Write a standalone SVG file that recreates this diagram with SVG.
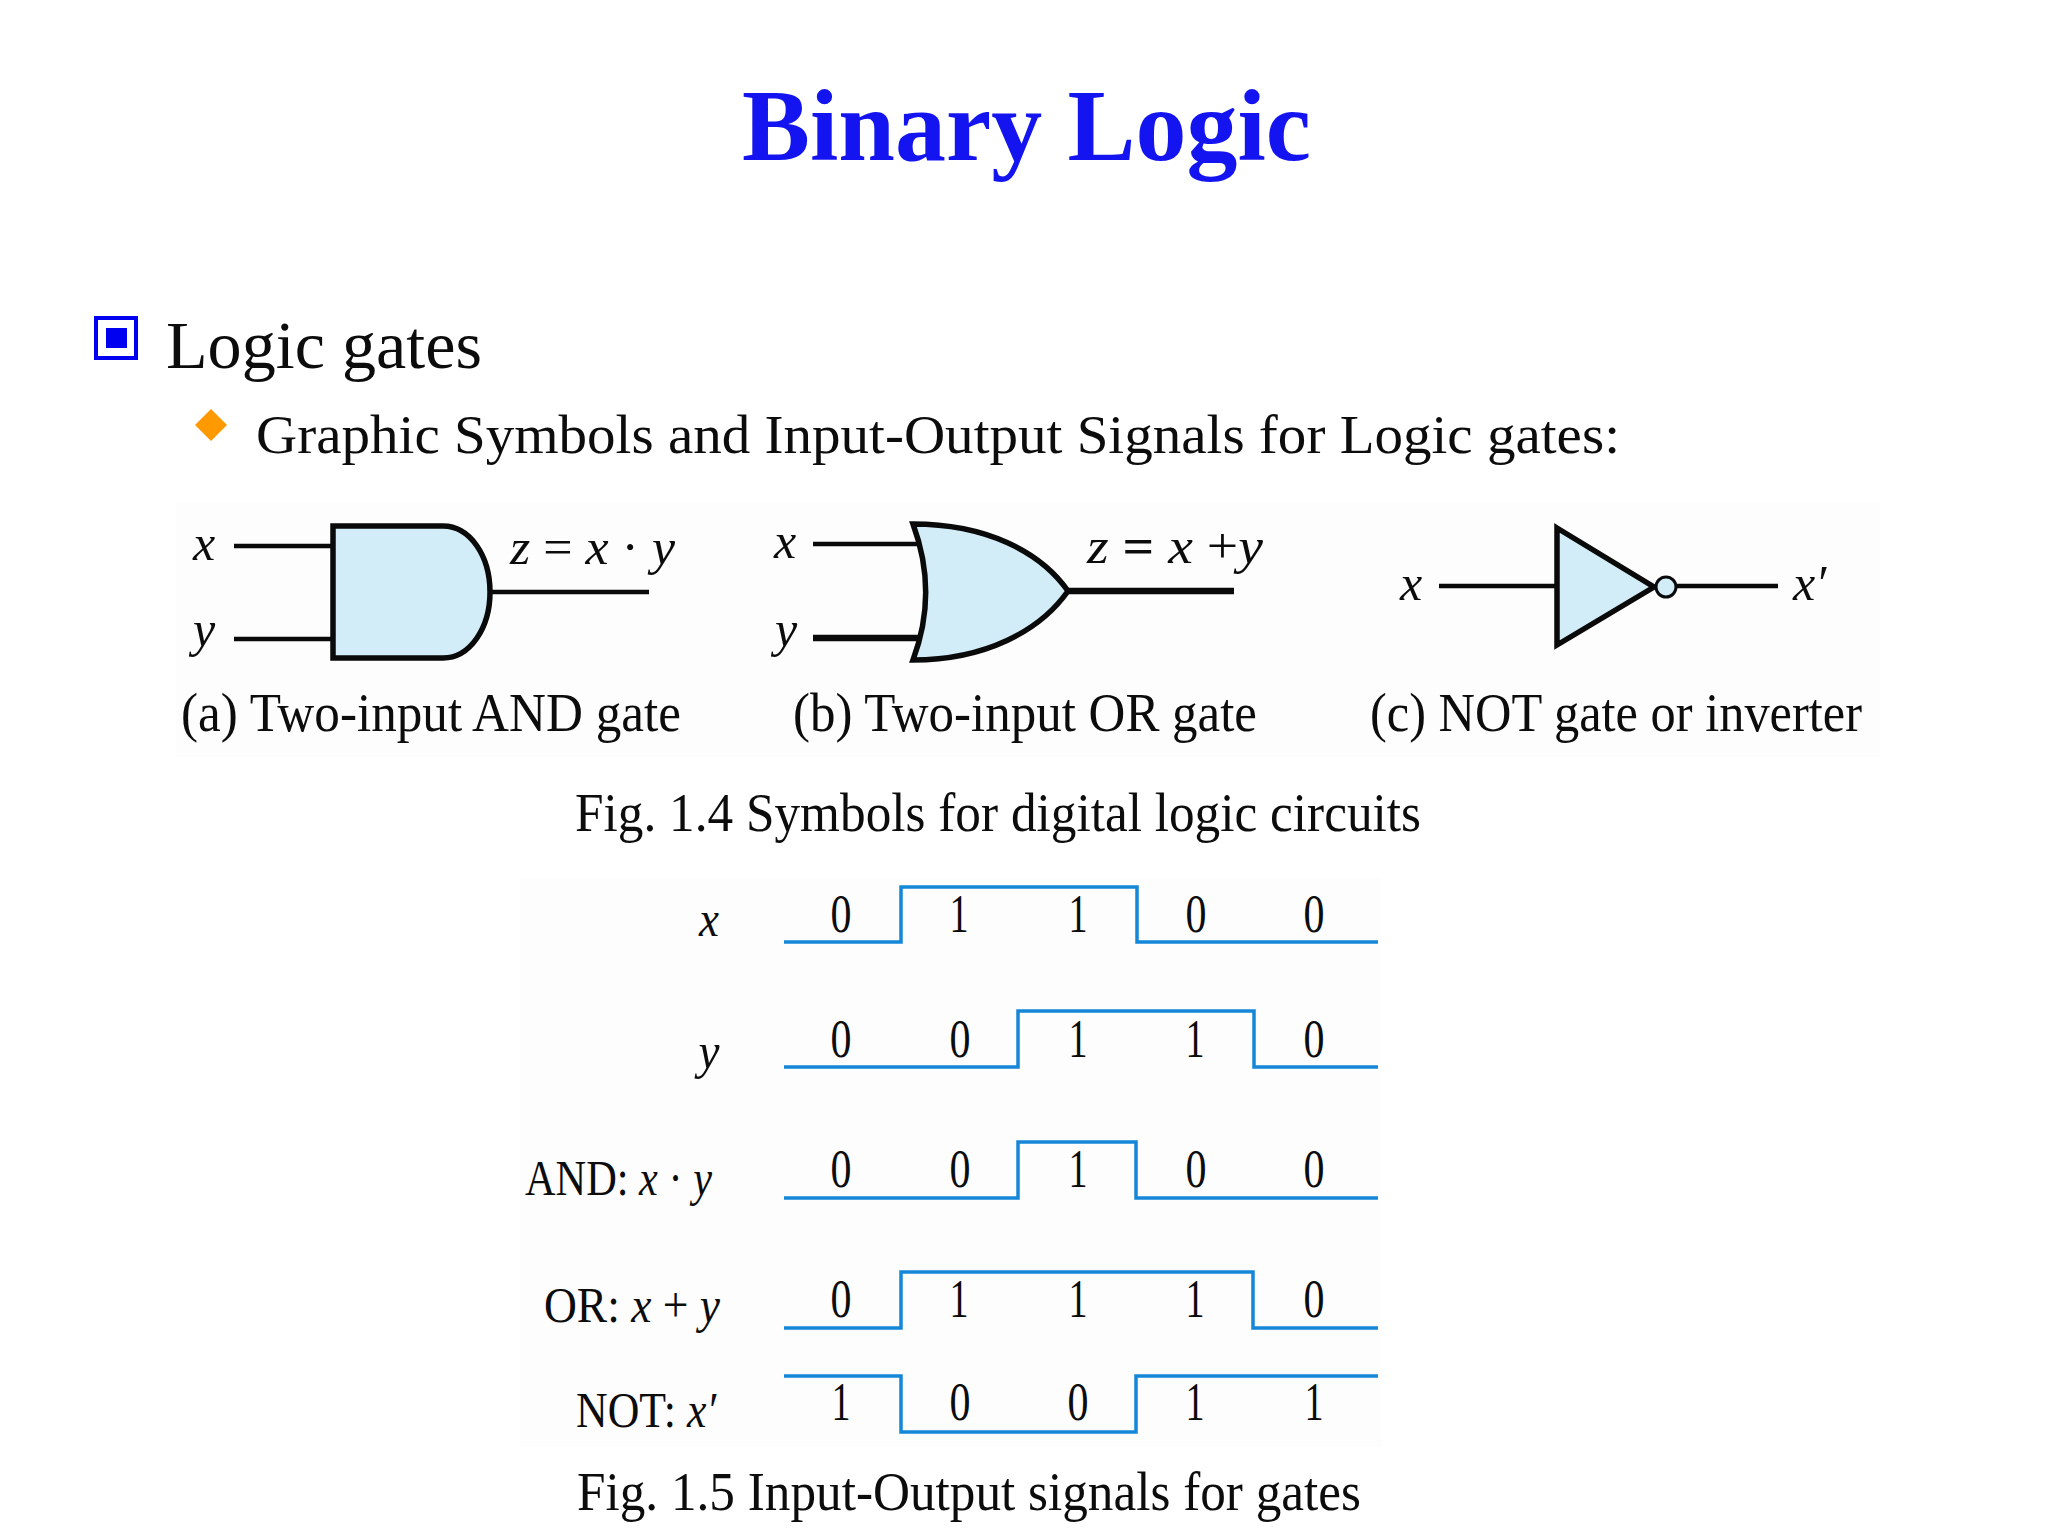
<svg xmlns="http://www.w3.org/2000/svg" width="2048" height="1536" viewBox="0 0 2048 1536">
<style>
text{font-family:"Liberation Serif","Times New Roman",serif;fill:#0c0c0c}
.i{font-style:italic}
.cap{font-size:54px}
.lab{font-size:50px}
.d{font-size:54px;text-anchor:middle}
.gate{fill:#d2ecf8;stroke:#0a0a0a;stroke-width:5.5;stroke-linejoin:miter}
.w{fill:none;stroke:#0a0a0a;stroke-width:4.5}
.wt{stroke-width:6.5}
.sig{fill:none;stroke:#1487d8;stroke-width:3.5}
</style>
<rect width="2048" height="1536" fill="#fff"/>
<rect x="176" y="503" width="1704" height="254" fill="#fdfdfd"/>
<rect x="520" y="878" width="862" height="569" fill="#fdfdfd"/>
<text x="742" y="160" font-size="102" font-weight="700" style="fill:#1414f0" textLength="569" lengthAdjust="spacingAndGlyphs">Binary Logic</text>
<g id="bullet1"><rect x="96" y="318" width="40" height="40" fill="none" stroke="#0000f0" stroke-width="4"/><rect x="106" y="328" width="21" height="20" fill="#0000f0"/></g>
<text x="166" y="368" font-size="67" textLength="316" lengthAdjust="spacingAndGlyphs">Logic gates</text>
<polygon id="bullet2" points="211,409 227,425 211,441 195,425" fill="#ff9900"/>
<text x="256" y="453" font-size="55" textLength="1364" lengthAdjust="spacingAndGlyphs">Graphic Symbols and Input-Output Signals for Logic gates:</text>
<g id="connectors">
<path class="w" d="M234 546H333M234 639H333M490 592H649"/>
<path class="w" d="M813 544H920"/><path class="w wt" d="M813 638H920M1068 591H1234"/>
<path class="w" d="M1439 586H1557M1677 586H1778"/>
</g>
<g id="and-gate">
<path class="gate" d="M333 526H443C470 526 490 556 490 592C490 628 470 658 443 658H333Z"/>
<text class="lab i" x="204" y="560" text-anchor="middle">x</text>
<text class="lab i" x="204" y="646" text-anchor="middle">y</text>
<text class="lab" x="510" y="564" textLength="165" lengthAdjust="spacingAndGlyphs"><tspan class="i">z</tspan> = <tspan class="i">x</tspan> · <tspan class="i">y</tspan></text>
<text class="cap" x="181" y="731" textLength="500" lengthAdjust="spacingAndGlyphs">(a) Two-input AND gate</text>
</g>
<g id="or-gate">
<path class="gate" d="M913 524C985 524 1040 551 1068 591C1040 631 985 660 913 660C930 615 930 570 913 524Z"/>
<text class="lab i" x="785" y="558" text-anchor="middle">x</text>
<text class="lab i" x="786" y="646" text-anchor="middle">y</text>
<text class="lab" x="1087" y="563" textLength="176" lengthAdjust="spacingAndGlyphs"><tspan class="i">z</tspan> <tspan font-weight="700">=</tspan> <tspan class="i">x</tspan> +<tspan class="i">y</tspan></text>
<text class="cap" x="793" y="731" textLength="464" lengthAdjust="spacingAndGlyphs">(b) Two-input OR gate</text>
</g>
<g id="not-gate">
<polygon class="gate" points="1557,528 1654,587 1557,645"/>
<circle cx="1666" cy="587" r="10" fill="#d2ecf8" stroke="#0a0a0a" stroke-width="3"/>
<text class="lab i" x="1411" y="600" text-anchor="middle">x</text>
<text class="lab i" x="1793" y="600">x′</text>
<text class="cap" x="1370" y="731" textLength="492" lengthAdjust="spacingAndGlyphs">(c) NOT gate or inverter</text>
</g>
<text id="fig14" class="cap" x="575" y="831" textLength="846" lengthAdjust="spacingAndGlyphs">Fig. 1.4 Symbols for digital logic circuits</text>
<g id="signal-x">
<path class="sig" d="M784 942H901V887H1137V942H1378"/>
<text class="lab i" x="709" y="936" text-anchor="middle" textLength="20" lengthAdjust="spacingAndGlyphs">x</text>
<text class="d" x="841" y="932" textLength="21" lengthAdjust="spacingAndGlyphs">0</text><text class="d" x="959" y="932" textLength="19" lengthAdjust="spacingAndGlyphs">1</text><text class="d" x="1078" y="932" textLength="19" lengthAdjust="spacingAndGlyphs">1</text><text class="d" x="1196" y="932" textLength="21" lengthAdjust="spacingAndGlyphs">0</text><text class="d" x="1314" y="932" textLength="21" lengthAdjust="spacingAndGlyphs">0</text>
</g>
<g id="signal-y">
<path class="sig" d="M784 1067H1018V1011H1254V1067H1378"/>
<text class="lab i" x="709" y="1068" text-anchor="middle" textLength="21" lengthAdjust="spacingAndGlyphs">y</text>
<text class="d" x="841" y="1057" textLength="21" lengthAdjust="spacingAndGlyphs">0</text><text class="d" x="960" y="1057" textLength="21" lengthAdjust="spacingAndGlyphs">0</text><text class="d" x="1078" y="1057" textLength="19" lengthAdjust="spacingAndGlyphs">1</text><text class="d" x="1195" y="1057" textLength="19" lengthAdjust="spacingAndGlyphs">1</text><text class="d" x="1314" y="1057" textLength="21" lengthAdjust="spacingAndGlyphs">0</text>
</g>
<g id="signal-and">
<path class="sig" d="M784 1198H1018V1142H1136V1198H1378"/>
<text class="lab" x="525" y="1195" textLength="187" lengthAdjust="spacingAndGlyphs">AND: <tspan class="i">x</tspan> · <tspan class="i">y</tspan></text>
<text class="d" x="841" y="1187" textLength="21" lengthAdjust="spacingAndGlyphs">0</text><text class="d" x="960" y="1187" textLength="21" lengthAdjust="spacingAndGlyphs">0</text><text class="d" x="1078" y="1187" textLength="19" lengthAdjust="spacingAndGlyphs">1</text><text class="d" x="1196" y="1187" textLength="21" lengthAdjust="spacingAndGlyphs">0</text><text class="d" x="1314" y="1187" textLength="21" lengthAdjust="spacingAndGlyphs">0</text>
</g>
<g id="signal-or">
<path class="sig" d="M784 1328H901V1272H1253V1328H1378"/>
<text class="lab" x="544" y="1322" textLength="176" lengthAdjust="spacingAndGlyphs">OR: <tspan class="i">x</tspan> + <tspan class="i">y</tspan></text>
<text class="d" x="841" y="1317" textLength="21" lengthAdjust="spacingAndGlyphs">0</text><text class="d" x="959" y="1317" textLength="19" lengthAdjust="spacingAndGlyphs">1</text><text class="d" x="1078" y="1317" textLength="19" lengthAdjust="spacingAndGlyphs">1</text><text class="d" x="1195" y="1317" textLength="19" lengthAdjust="spacingAndGlyphs">1</text><text class="d" x="1314" y="1317" textLength="21" lengthAdjust="spacingAndGlyphs">0</text>
</g>
<g id="signal-not">
<path class="sig" d="M784 1376H901V1432H1136V1376H1378"/>
<text class="lab" x="576" y="1427" textLength="140" lengthAdjust="spacingAndGlyphs">NOT: <tspan class="i">x′</tspan></text>
<text class="d" x="841" y="1420" textLength="19" lengthAdjust="spacingAndGlyphs">1</text><text class="d" x="960" y="1420" textLength="21" lengthAdjust="spacingAndGlyphs">0</text><text class="d" x="1078" y="1420" textLength="21" lengthAdjust="spacingAndGlyphs">0</text><text class="d" x="1195" y="1420" textLength="19" lengthAdjust="spacingAndGlyphs">1</text><text class="d" x="1314" y="1420" textLength="19" lengthAdjust="spacingAndGlyphs">1</text>
</g>
<text id="fig15" class="cap" x="577" y="1510" textLength="784" lengthAdjust="spacingAndGlyphs">Fig. 1.5 Input-Output signals for gates</text>
</svg>
